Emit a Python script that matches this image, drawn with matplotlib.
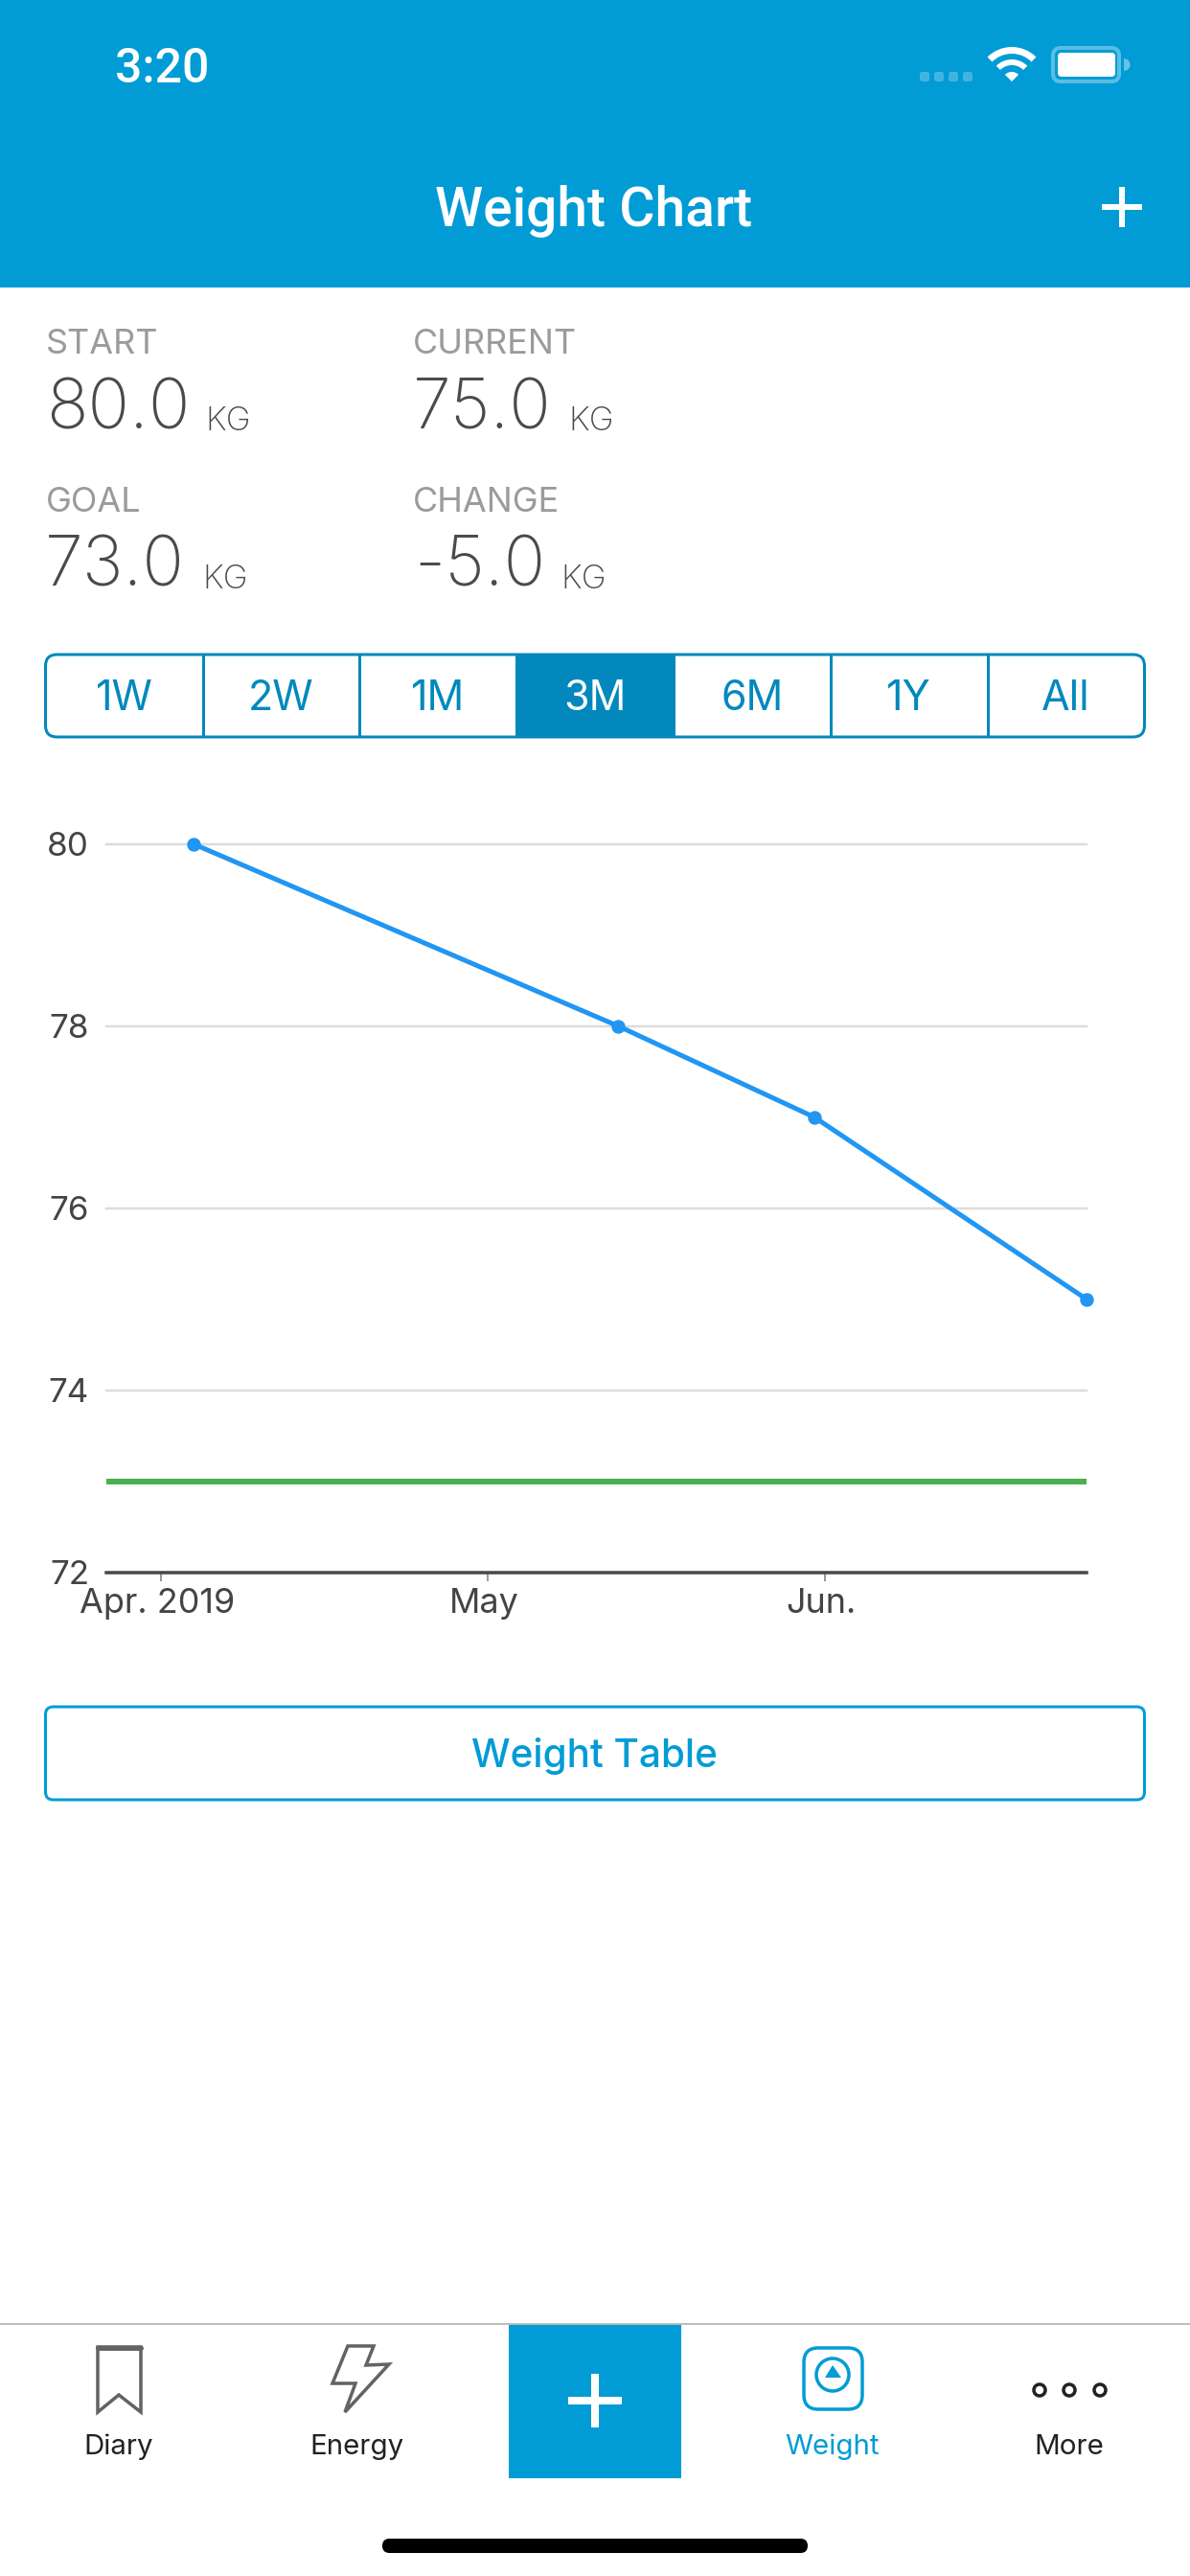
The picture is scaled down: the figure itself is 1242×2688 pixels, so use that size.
import datetime as dt

import matplotlib
matplotlib.use('Agg')
import matplotlib.dates as mdates
import matplotlib.pyplot as plt
from matplotlib.patches import Circle, FancyBboxPatch, Polygon, Rectangle, Wedge
from matplotlib.transforms import ScaledTranslation

plt.rcParams['font.family'] = ['Inter', 'DejaVu Sans']

# chart data
weight_dates = [dt.date(2019, 4, 4), dt.date(2019, 5, 13), dt.date(2019, 5, 31), dt.date(2019, 6, 25)]
weight_values = [80, 78, 77, 75]
goal_value = 73
x_start = dt.date(2019, 3, 27)
x_end = dt.date(2019, 6, 25)
y_ticks = [72, 74, 76, 78, 80]
x_tick_dates = [dt.date(2019, 4, 1), dt.date(2019, 5, 1), dt.date(2019, 6, 1)]
x_tick_labels = ['Apr. 2019', 'May', 'Jun.']

# screen text
stat_labels = ['START', 'CURRENT', 'GOAL', 'CHANGE']
stat_values = ['80.0', '75.0', '73.0', '-5.0']
range_labels = ['1W', '2W', '1M', '3M', '6M', '1Y', 'All']
tab_labels = ['Diary', 'Energy', 'Weight', 'More']

BLUE = '#019cd5'
DARK_BLUE = '#0288bc'
GREY = '#9b9b9b'
VALUE = '#4a4a4a'
ICON = '#636366'

W, H = 1242, 2688
fig = plt.figure(figsize=(W / 100, H / 100), dpi=100, facecolor='white')

# whole screen axes, units are pixels with y going down
ui = fig.add_axes([0, 0, 1, 1])
ui.set_xlim(0, W)
ui.set_ylim(H, 0)
ui.axis('off')


def px(p):
    return p * 0.72


def label(x, y, s, size, color, ha='left', weight='normal', family=None):
    ui.text(x, y, s, fontsize=px(size), color=color, ha=ha, va='baseline', fontweight=weight,
            family=family or plt.rcParams['font.family'])


def rbox(x0, y0, x1, y1, r, **kw):
    ui.add_patch(FancyBboxPatch((x0 + r, y0 + r), x1 - x0 - 2 * r, y1 - y0 - 2 * r,
                                boxstyle=f'round,pad={r},rounding_size={r}', **kw))


def plus(cx, cy, half, thick, color='white'):
    ui.add_patch(Rectangle((cx - half, cy - thick / 2), half * 2, thick, color=color, lw=0))
    ui.add_patch(Rectangle((cx - thick / 2, cy - half), thick, half * 2, color=color, lw=0))


# header
ui.add_patch(Rectangle((0, 0), W, 300, color=BLUE, lw=0))
label(120, 86, '3:20', 50, 'white', weight='medium', family='Roboto')
label(620, 236, 'Weight Chart', 57, 'white', ha='center', weight='medium', family='Roboto')
plus(1171, 216, 21, 6)

# status bar icons
for x in [960, 975, 990, 1005]:
    rbox(x, 75, x + 10, 85, 2.5, fc='white', ec='none', alpha=0.25)
for r, w in [(36, 7), (23, 6), (10, 10)]:
    ui.add_patch(Wedge((1056, 85), r, 225, 315, width=w, fc='white', ec='none'))
rbox(1099, 50, 1168, 85, 8, fc='none', ec='white', lw=px(4), alpha=0.35)
rbox(1104, 55, 1164, 80, 4, fc='white', ec='none')
ui.add_patch(Wedge((1173, 67.5), 6.5, 270, 90, fc='white', ec='none', alpha=0.4))

# stats block
stat_x = [48, 431, 48, 431]
label_y = [369, 369, 534, 534]
value_x = [48, 431, 47, 432]
value_y = [447, 447, 612, 612]
kg_x = [214, 593, 211, 585]
for i in range(4):
    label(stat_x[i], label_y[i], stat_labels[i], 36, GREY)
    label(value_x[i], value_y[i], stat_values[i], 72, VALUE, weight='light')
    label(kg_x[i], value_y[i] + 2, 'KG', 35, VALUE, weight='light')

# range selector
seg_edges = [47.5, 211.5, 375, 538.6, 703, 866.5, 1030.5, 1194.5]
ui.add_patch(Rectangle((seg_edges[3], 683), seg_edges[4] - seg_edges[3], 86, color=DARK_BLUE, lw=0))
rbox(47.5, 683, 1194.5, 769, 12, fc='none', ec=DARK_BLUE, lw=px(3))
for x in seg_edges[1:-1]:
    ui.plot([x, x], [683, 769], color=DARK_BLUE, lw=px(3), solid_capstyle='butt')
for i, s in enumerate(range_labels):
    c = 'white' if s == '3M' else DARK_BLUE
    label((seg_edges[i] + seg_edges[i + 1]) / 2, 741, s, 43, c, ha='center')

# chart
ax = fig.add_axes([111 / W, 1 - 1640.7 / H, 1023 / W, 760 / H])
ax.set_facecolor('none')
ax.set_xlim(x_start, x_end)
ax.set_ylim(72, 80)
for name in ['top', 'right', 'left']:
    ax.spines[name].set_visible(False)
ax.spines['bottom'].set_color('#484848')
ax.spines['bottom'].set_linewidth(px(3.5))
for v in y_ticks[1:]:
    ax.axhline(v, color='#dcdcdc', lw=px(2.5), clip_on=False, zorder=1)
ax.axhline(goal_value, color='#4caf50', lw=px(6), zorder=2)
ax.plot(weight_dates, weight_values, color='#2196f3', lw=px(5), marker='o', ms=px(13),
        clip_on=False, zorder=3)
ax.set_yticks(y_ticks)
ax.tick_params(axis='y', length=0, pad=px(18), labelsize=px(35), labelcolor='#444444')
ax.set_xticks([mdates.date2num(d) for d in x_tick_dates])
ax.set_xticklabels(x_tick_labels)
ax.tick_params(axis='x', length=px(9), width=px(2), color='#999999', pad=px(7),
               labelsize=px(36), labelcolor='#444444')
# month labels sit a little left of their ticks
for t in ax.get_xticklabels():
    t.set_transform(t.get_transform() + ScaledTranslation(-4 / 100, 0, fig.dpi_scale_trans))

# weight table button
rbox(47.5, 1781, 1194.5, 1878, 8, fc='white', ec=BLUE, lw=px(3))
label(620, 1844, 'Weight Table', 40.5, BLUE, ha='center', weight='medium')

# tab bar
ui.plot([0, W], [2425, 2425], color='#bdbdbd', lw=px(2))
ui.add_patch(Rectangle((531, 2424), 180, 162, color=BLUE, lw=0))
plus(621, 2505, 28, 8)
tab_x = [123.5, 372, 868, 1116]
tab_colors = ['#222222', '#222222', BLUE, '#222222']
for x, s, c in zip(tab_x, tab_labels, tab_colors):
    label(x, 2561, s, 29.5, c, ha='center')

# diary icon
ui.add_patch(Polygon([(102, 2449), (147, 2449), (147, 2517), (124, 2499), (102, 2517)], closed=True,
                     fc='none', ec=ICON, lw=px(3.5)))
ui.plot([102, 147], [2450, 2450], color=ICON, lw=px(5), solid_capstyle='round')
# energy icon
ui.add_patch(Polygon([(363, 2448), (390, 2448), (382, 2468), (406, 2467), (360, 2517), (371, 2487),
                      (347, 2487)], closed=True, fc='none', ec=ICON, lw=px(3.5)))
# weight icon
rbox(839, 2450, 900, 2514, 15, fc='none', ec=BLUE, lw=px(3.5))
ui.add_patch(Circle((869, 2478), 17, fc='none', ec=BLUE, lw=px(3.5)))
ui.add_patch(Polygon([(869, 2468), (861, 2481), (878, 2481)], closed=True, fc=BLUE, ec='none'))
# more icon
for x in [1085, 1116, 1148]:
    ui.add_patch(Circle((x, 2494), 6, fc='none', ec='#222222', lw=px(3.5)))

# home indicator
rbox(399, 2649, 843, 2664, 7.5, fc='black', ec='none')

fig.savefig('out.png', dpi=100)
